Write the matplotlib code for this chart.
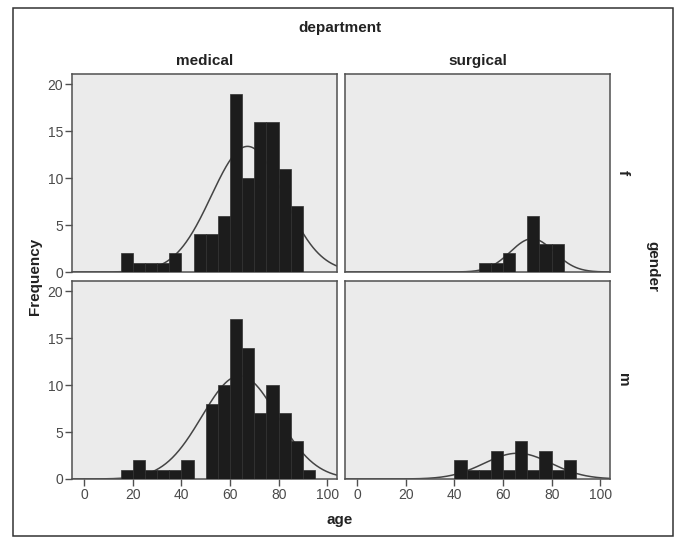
import numpy as np
import matplotlib
matplotlib.use("Agg")
import matplotlib.pyplot as plt
from matplotlib.patches import Rectangle

plt.rcParams['font.family'] = ['Liberation Sans', 'DejaVu Sans']

# left edges of the 5-year age bins
bin_starts = [15, 20, 25, 30, 35, 40, 45, 50, 55, 60, 65, 70, 75, 80, 85, 90]
bin_width = 5

medical_f = [2, 1, 1, 1, 2, 0, 4, 4, 6, 19, 10, 16, 16, 11, 7, 0]
surgical_f = [0, 0, 0, 0, 0, 0, 0, 1, 1, 2, 0, 6, 3, 3, 0, 0]
medical_m = [1, 2, 1, 1, 1, 2, 0, 8, 10, 17, 14, 7, 10, 7, 4, 1]
surgical_m = [0, 0, 0, 0, 0, 2, 1, 1, 3, 1, 4, 1, 3, 1, 2, 0]

# normal curve parameters (mean, sd)
curve_params = {
    ("f", "medical"): (67.2, 14.9),
    ("f", "surgical"): (72.0, 9.0),
    ("m", "medical"): (64.0, 15.6),
    ("m", "surgical"): (66.0, 13.8),
}

departments = ["medical", "surgical"]
genders = ["f", "m"]
counts = {
    ("f", "medical"): medical_f,
    ("f", "surgical"): surgical_f,
    ("m", "medical"): medical_m,
    ("m", "surgical"): surgical_m,
}

y_ticks = [0, 5, 10, 15, 20]
x_ticks = [0, 20, 40, 60, 80, 100]

W, H = 676, 537
fig = plt.figure(figsize=(W / 100, H / 100), dpi=100)
fig.patch.set_facecolor("white")

# outer frame
fig.patches.append(Rectangle((13 / W, 1 - 536 / H), 660 / W, 528 / H,
                             transform=fig.transFigure, fill=False,
                             edgecolor="#333333", linewidth=1.1))


def px_axes(x0, y0, x1, y1):
    return fig.add_axes([x0 / W, 1 - y1 / H, (x1 - x0) / W, (y1 - y0) / H])


col_x = [(72, 337), (345, 610)]
row_y = [(74, 272), (281, 479)]
xs = np.linspace(-5, 104, 400)
grey_txt = "#4a4a4a"
title_kw = dict(ha="center", va="center", fontsize=11, fontweight="bold",
                color="#222222")

for r, g in enumerate(genders):
    for c, d in enumerate(departments):
        ax = px_axes(col_x[c][0], row_y[r][0], col_x[c][1], row_y[r][1])
        ax.set_facecolor("#ebebeb")
        vals = counts[(g, d)]
        mu, sd = curve_params[(g, d)]
        n = sum(vals)
        ys = n * bin_width / (sd * np.sqrt(2 * np.pi)) * np.exp(-0.5 * ((xs - mu) / sd) ** 2)
        ax.plot(xs, ys, color="#444444", linewidth=1.1, zorder=2)
        ax.bar(bin_starts, vals, width=bin_width, align="edge",
               color="#1c1c1c", edgecolor="#303030", linewidth=0.5, zorder=3)
        ax.set_xlim(-5, 104)
        ax.set_ylim(0, 21.1)
        for s in ax.spines.values():
            s.set_color("#505050")
            s.set_linewidth(1.1)
        ax.tick_params(direction="out", length=5, width=1.0, color="#505050",
                       labelcolor=grey_txt, labelsize=10, pad=1.5)
        if c == 0:
            ax.set_yticks(y_ticks)
        else:
            ax.set_yticks([])
        if r == 1:
            ax.set_xticks(x_ticks)
        else:
            ax.set_xticks([])

# titles and labels
fig.text(340 / W, 1 - 28 / H, "department", **title_kw)
for c, d in enumerate(departments):
    fig.text((col_x[c][0] + col_x[c][1]) / 2 / W, 1 - 61 / H, d, **title_kw)
for r, g in enumerate(genders):
    fig.text(623 / W, 1 - (row_y[r][0] + row_y[r][1]) / 2 / H, g,
             rotation=-90, **title_kw)
fig.text(652 / W, 1 - 266 / H, "gender", rotation=-90, **title_kw)
fig.text(35 / W, 1 - 276 / H, "Frequency", rotation=90, **title_kw)
fig.text(340 / W, 1 - 520 / H, "age", **title_kw)

fig.savefig("out.png", dpi=100)
